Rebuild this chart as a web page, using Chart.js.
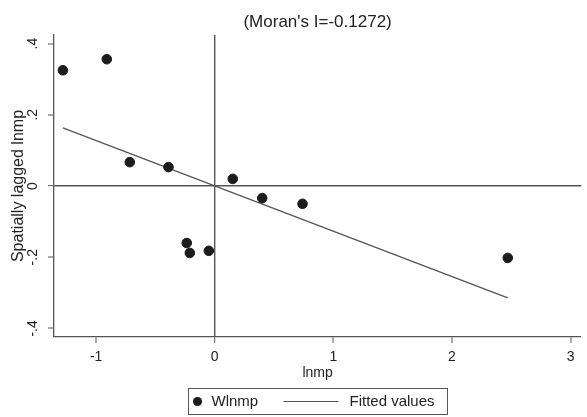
<!DOCTYPE html>
<html><head><meta charset="utf-8">
<script src="https://cdn.jsdelivr.net/npm/chart.js@4.4.0/dist/chart.umd.min.js"></script>
<style>html,body{margin:0;padding:0;background:#fff;}canvas{display:block;}</style>
</head><body>
<canvas id="c" width="587" height="417"></canvas>
<script>
// Data
const lnmp  = [-1.28, -0.91, -0.716, -0.39, 0.152, 0.40, 0.74, 2.47, -0.236, -0.21, -0.05];
const wlnmp = [0.325, 0.356, 0.067, 0.053, 0.020, -0.034, -0.050, -0.202, -0.160, -0.188, -0.182];
const fitX = [-1.28, 2.47];
const fitY = [0.163, -0.314];
const xTicks = [-1, 0, 1, 2, 3];
const xTickLabels = ['-1', '0', '1', '2', '3'];
const yTicks = [-0.4, -0.2, 0, 0.2, 0.4];
const yTickLabels = ['-.4', '-.2', '0', '.2', '.4'];
const titleText = "(Moran's I=-0.1272)";
const xTitle = 'lnmp';
const yTitle = 'Spatially lagged lnmp';
const seriesNames = ['Wlnmp', 'Fitted values'];

const FONT = "'Liberation Sans', Arial, sans-serif";
const TXT = '#222';
const LINE = '#555';

const scatterPts = lnmp.map((x, i) => ({x: x, y: wlnmp[i]}));
const fitPts = fitX.map((x, i) => ({x: x, y: fitY[i]}));

const legendPlugin = {
  id: 'boxLegend',
  afterDraw(chart) {
    const ctx = chart.ctx;
    const ca = chart.chartArea;
    const cx = (ca.left + ca.right) / 2;
    const top = 388.5, h = 26, w = 259;
    const left = Math.round(cx - w / 2) + 0.5;
    const cy = top + h / 2;
    ctx.save();
    ctx.strokeStyle = LINE; ctx.lineWidth = 1;
    ctx.strokeRect(left, top, w, h);
    ctx.fillStyle = '#1c1c1c';
    ctx.beginPath(); ctx.arc(left + 9, cy, 4.6, 0, Math.PI * 2); ctx.fill();
    ctx.font = '15px ' + FONT; ctx.fillStyle = TXT; ctx.textBaseline = 'middle'; ctx.textAlign = 'left';
    ctx.fillText(chart.data.datasets[0].label, left + 23, cy + 0.5);
    ctx.strokeStyle = LINE; ctx.lineWidth = 1.2;
    ctx.beginPath(); ctx.moveTo(left + 95, cy); ctx.lineTo(left + 150, cy); ctx.stroke();
    ctx.fillText(chart.data.datasets[1].label, left + 161, cy + 0.5);
    ctx.restore();
  }
};

new Chart(document.getElementById('c'), {
  type: 'scatter',
  data: {
    datasets: [
      { label: seriesNames[0], data: scatterPts, backgroundColor: '#1c1c1c', borderColor: '#1c1c1c',
        pointRadius: 4.8, pointHoverRadius: 4.8, order: 1 },
      { label: seriesNames[1], type: 'line', data: fitPts, borderColor: LINE, borderWidth: 1.3,
        pointRadius: 0, fill: false, tension: 0, order: 2 }
    ]
  },
  options: {
    responsive: false,
    animation: false,
    events: [],
    layout: { padding: { left: 0, right: 5, top: 0, bottom: 35 } },
    plugins: {
      legend: { display: false },
      tooltip: { enabled: false },
      title: {
        display: true, text: titleText, fullSize: false, color: TXT,
        font: { family: FONT, size: 17, weight: 'normal' },
        padding: { top: 12.3, bottom: 2.3 }
      }
    },
    scales: {
      x: {
        type: 'linear', min: -1.355, max: 3.089,
        afterBuildTicks: s => { s.ticks = xTicks.map(v => ({value: v})); },
        afterFit: s => { s.height = 45; },
        ticks: {
          color: TXT, font: { family: FONT, size: 14 }, padding: 6,
          maxRotation: 0, minRotation: 0,
          callback: (v, i) => xTickLabels[i]
        },
        grid: {
          drawOnChartArea: true, tickLength: 6, tickColor: LINE, tickWidth: 1,
          color: c => (c.tick && c.tick.value === 0) ? LINE : 'rgba(0,0,0,0)',
          lineWidth: c => (c.tick && c.tick.value === 0) ? 1.4 : 0
        },
        border: { display: true, color: LINE, width: 1.3 },
        title: { display: true, text: xTitle, color: TXT, font: { family: FONT, size: 14 },
                 padding: { top: 0, bottom: 0.8 } }
      },
      y: {
        type: 'linear', min: -0.424, max: 0.424,
        afterBuildTicks: s => { s.ticks = yTicks.map(v => ({value: v})); },
        afterFit: s => { s.width = 54; },
        ticks: {
          color: TXT, font: { family: FONT, size: 14 }, padding: 6.8,
          minRotation: 90, maxRotation: 90, crossAlign: 'center',
          callback: (v, i) => yTickLabels[i]
        },
        grid: {
          drawOnChartArea: true, tickLength: 6, tickColor: LINE, tickWidth: 1,
          color: c => (c.tick && c.tick.value === 0) ? LINE : 'rgba(0,0,0,0)',
          lineWidth: c => (c.tick && c.tick.value === 0) ? 1.4 : 0
        },
        border: { display: true, color: LINE, width: 1.3 },
        title: { display: true, text: yTitle, color: TXT, font: { family: FONT, size: 16 },
                 padding: { top: 9.4, bottom: 0 } }
      }
    }
  },
  plugins: [legendPlugin]
});
</script>
</body></html>
